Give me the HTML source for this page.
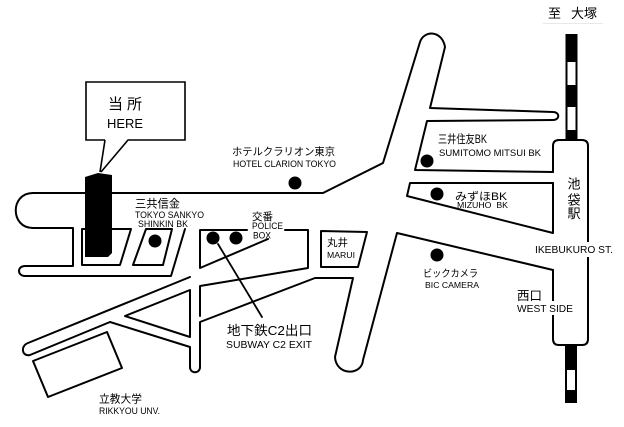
<!DOCTYPE html>
<html>
<head>
<meta charset="utf-8">
<style>
  html, body { margin: 0; padding: 0; background: #fff; }
  svg { display: block; }
  text { font-family: "Liberation Sans", "Noto Sans CJK JP", sans-serif; fill: #000; }
</style>
</head>
<body>
<svg width="624" height="427" viewBox="0 0 624 427" xmlns="http://www.w3.org/2000/svg">
  <rect width="624" height="427" fill="#fff"/>

  <!-- ===== Roads / blocks ===== -->
  <g fill="none" stroke="#000" stroke-width="2" stroke-linejoin="round" stroke-linecap="round">
    <!-- top road upper edge + NNE road + short road + Mitsui block -->
    <path d="M33,193 L323,193 L383,163 L420,42 C424,30 442,30 445,47 L430,108 L553,112 C560,112 560,120 553,120 L427,121 L415,170 L553,172"/>
    <!-- top road left end + lower edge + bottom road -->
    <path d="M33,193 C10,193 10,228 33,228 L73,228 L73,266 L25,266 C17,266 17,276 25,276 L171,276 L185,229"/>
    <!-- block with building -->
    <path d="M82,229 L131,229 L120,265 L82,265 Z"/>
    <!-- Shinkin parallelogram -->
    <path d="M146,229 L172,229 L163,265 L133,265 Z"/>
    <!-- police block -->
    <path d="M247,230 L200,230 L200,268 L268,239"/>
    <!-- block 2 -->
    <path d="M285,230 L308,230 L308,268 L200,286 L200,316"/>
    <!-- Marui -->
    <path d="M321,231 L367,232 L358,267 L321,267 Z"/>
    <!-- long diagonal road A, vertical road, Bic road -->
    <path d="M190,277 L28,343 C20,346 22,357 30,355 L110,322 L190,347 L190,367 C190,374 200,374 200,367 L200,322 L315,278 L353,278 L335,357 C336,376 362,376 363,360 L397,233 L553,270"/>
    <!-- triangle island -->
    <path d="M125,316 L190,290 L190,337 Z"/>
    <!-- Mizuho block -->
    <path d="M553,183 L410,183 L407,196 L553,233"/>
    <!-- Rikkyo University -->
    <path d="M33,361 L107,332 L122,368 L48,397 Z"/>
    <!-- subway pointer -->
    <path d="M218,244 L262,317" stroke-width="1.8"/>
    <!-- station outline -->
    <path d="M553,172 L553,146 Q553,140 559,140 L582,140 Q588,140 588,146 L588,339 Q588,345 582,345 L559,345 Q553,345 553,339 L553,270"/>
    <path d="M553,183 L553,232"/>
  </g>

  <!-- callout box -->
  <path d="M105,140 L86,140 L86,82 L185,82 L185,140 L128,140 L101,172 M105,140 L100,172" fill="none" stroke="#000" stroke-width="1.6" stroke-linejoin="miter"/>

  <!-- building -->
  <path d="M85,177 L98,173 L112,175 L112,253 L108,257 L85,257 Z" fill="#000"/>

  <!-- dots -->
  <g fill="#000">
    <circle cx="295" cy="183" r="6.5"/>
    <circle cx="155" cy="241" r="6.5"/>
    <circle cx="213" cy="238" r="6.5"/>
    <circle cx="236" cy="238" r="6.5"/>
    <circle cx="427" cy="161" r="6.5"/>
    <circle cx="437" cy="194" r="6.5"/>
    <circle cx="437" cy="255" r="6.5"/>
  </g>

  <!-- railway top -->
  <rect x="566.5" y="35" width="10" height="105" fill="#fff" stroke="#000" stroke-width="2"/>
  <rect x="566" y="35" width="11" height="27" fill="#000"/>
  <rect x="566" y="85" width="11" height="22" fill="#000"/>
  <rect x="566" y="130" width="11" height="10" fill="#000"/>
  <!-- railway bottom -->
  <rect x="566" y="345" width="10" height="57" fill="#fff" stroke="#000" stroke-width="2"/>
  <rect x="565" y="345" width="12" height="25" fill="#000"/>
  <rect x="565" y="390" width="12" height="12" fill="#000"/>

  <!-- white backgrounds for labels crossing station -->
  <rect x="533" y="242" width="82" height="15" fill="#fff"/>
  <rect x="515" y="301" width="60" height="14" fill="#fff"/>

  <!-- faint line under destination -->
  <line x1="543" y1="23.5" x2="603" y2="23.5" stroke="#e8e8e8" stroke-width="1"/>

  <!-- ===== Labels ===== -->
  <text x="548" y="18" font-size="13">至</text>
  <text x="571" y="18" font-size="13">大塚</text>

  <text x="108" y="109" font-size="15" letter-spacing="4">当所</text>
  <text x="107" y="128" font-size="13" textLength="36" lengthAdjust="spacingAndGlyphs">HERE</text>

  <text x="232" y="155" font-size="10.5" textLength="103" lengthAdjust="spacingAndGlyphs">ホテルクラリオン東京</text>
  <text x="233" y="167" font-size="9" textLength="103" lengthAdjust="spacingAndGlyphs">HOTEL CLARION TOKYO</text>

  <text x="135" y="207.5" font-size="11.5" textLength="45" lengthAdjust="spacingAndGlyphs">三共信金</text>
  <text x="135" y="218" font-size="9" textLength="69" lengthAdjust="spacingAndGlyphs">TOKYO SANKYO</text>
  <text x="138" y="227" font-size="9" textLength="50" lengthAdjust="spacingAndGlyphs">SHINKIN BK</text>

  <text x="252" y="220" font-size="10.5" textLength="21" lengthAdjust="spacingAndGlyphs">交番</text>
  <text x="252" y="229" font-size="9" textLength="31" lengthAdjust="spacingAndGlyphs">POLICE</text>
  <text x="253" y="238.5" font-size="9" textLength="18" lengthAdjust="spacingAndGlyphs">BOX</text>

  <text x="327" y="246" font-size="10.5" textLength="21" lengthAdjust="spacingAndGlyphs">丸井</text>
  <text x="327" y="258" font-size="8.5" textLength="28" lengthAdjust="spacingAndGlyphs">MARUI</text>

  <text x="438" y="143" font-size="11.5" textLength="49" lengthAdjust="spacingAndGlyphs">三井住友BK</text>
  <text x="439" y="156" font-size="9" textLength="102" lengthAdjust="spacingAndGlyphs">SUMITOMO MITSUI BK</text>

  <text x="455" y="200" font-size="11" textLength="52" lengthAdjust="spacingAndGlyphs">みずほBK</text>
  <text x="457" y="208" font-size="8.5" textLength="51" lengthAdjust="spacingAndGlyphs">MIZUHO&#160;&#160;BK</text>

  <text x="574" y="188.5" font-size="13" text-anchor="middle">池</text>
  <text x="574" y="204.5" font-size="13" text-anchor="middle">袋</text>
  <text x="574" y="218" font-size="13" text-anchor="middle">駅</text>

  <text x="535" y="253" font-size="10" textLength="78" lengthAdjust="spacingAndGlyphs">IKEBUKURO ST.</text>

  <text x="423" y="277" font-size="10" textLength="55" lengthAdjust="spacingAndGlyphs">ビックカメラ</text>
  <text x="425" y="288" font-size="8.5" textLength="54" lengthAdjust="spacingAndGlyphs">BIC CAMERA</text>

  <text x="517" y="300" font-size="12.5" textLength="25" lengthAdjust="spacingAndGlyphs">西口</text>
  <text x="517" y="312" font-size="10" textLength="56" lengthAdjust="spacingAndGlyphs">WEST SIDE</text>

  <text x="227" y="335" font-size="13" textLength="85" lengthAdjust="spacingAndGlyphs">地下鉄C2出口</text>
  <text x="226" y="348" font-size="10" textLength="86" lengthAdjust="spacingAndGlyphs">SUBWAY C2 EXIT</text>

  <text x="99" y="402.5" font-size="11" textLength="43" lengthAdjust="spacingAndGlyphs">立教大学</text>
  <text x="99" y="414" font-size="9" textLength="61" lengthAdjust="spacingAndGlyphs">RIKKYOU UNV.</text>
</svg>
</body>
</html>
